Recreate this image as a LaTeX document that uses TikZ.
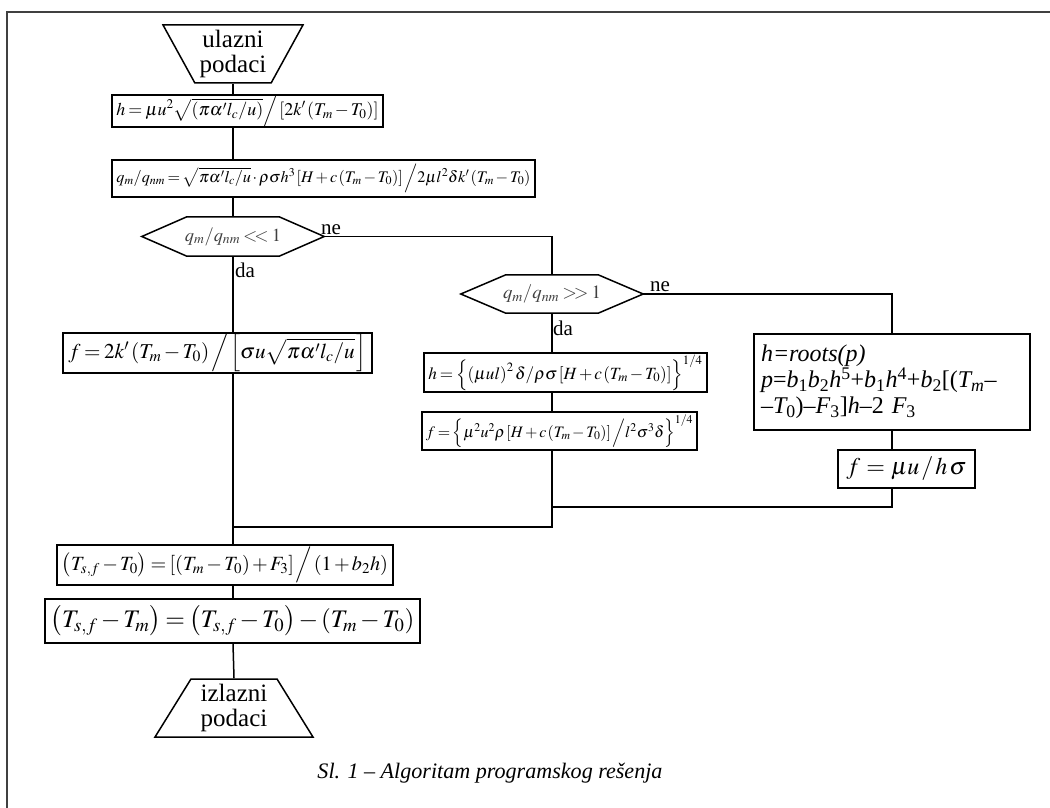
\documentclass[tikz,border=0pt]{standalone}
\usepackage{graphicx}
\usepackage{mathptmx}
\usepackage{fontspec}
\setmainfont{Liberation Serif}[ItalicFont={Liberation Serif Italic},BoldFont={Liberation Serif Bold}]
\usetikzlibrary{shapes.geometric,calc}
\newcommand{\fitw}[2]{\resizebox{#1pt}{!}{\thinmuskip=1.5mu\medmuskip=2mu\thickmuskip=3mu\nulldelimiterspace=0pt$#2$}}
\newcommand{\sbt}[1]{\textsubscript{\upshape #1}}
\newcommand{\spt}[1]{\textsuperscript{\upshape #1}}
\tikzset{
  box/.style={draw, line width=1.5pt, rectangle, inner sep=0pt, font=\fontsize{18}{20}\selectfont},
  hexn/.style={inner sep=0pt, font=\fontsize{18}{20}\selectfont, text=black!75},
  conn/.style={line width=1.5pt},
  lbl/.style={font=\fontsize{21}{22}\selectfont, inner sep=0pt},
  trap/.style={draw, line width=1.5pt, trapezium, trapezium stretches=true, inner sep=1pt, align=center, font=\fontsize{25}{25}\selectfont}
}
\begin{document}
\begin{tikzpicture}[x=1pt,y=-1pt]
\useasboundingbox (0,0) rectangle (1050,808);
\draw[line width=1.8pt, black!75] (7,808) -- (7,12) -- (1050,12);

% start / end
\node[trap, shape border rotate=180, minimum width=140pt, minimum height=58pt] (in) at (233,54) {ulazni\\podaci};
\node[trap, minimum width=158pt, minimum height=58pt] (out) at (234,708) {izlazni\\podaci};

% left column
\node[box, minimum width=271pt, minimum height=28pt] (b1) at (247.5,111)
  {\fitw{262}{h = \mu u^2\sqrt{\left(\pi\alpha' l_c/u\right)}\Big/\left[2k'\left(T_m - T_0\right)\right]}};
\node[box, minimum width=423pt, minimum height=37pt] (b2) at (323.5,178.5)
  {\fitw{414}{q_m/q_{nm} = \sqrt{\pi\alpha' l_c/u}\cdot\rho\sigma h^3\left[H + c\left(T_m - T_0\right)\right]\Big/ 2\mu l^2\delta k'\left(T_m - T_0\right)}};
\node[hexn, minimum width=182pt, minimum height=39pt] (d1) at (233,236.5)
  {\fitw{96}{q_m/q_{nm} <\!\!< 1}};
\draw[conn] (d1.west) -- ([xshift=45pt]d1.north west) -- ([xshift=-45pt]d1.north east) -- (d1.east)
  -- ([xshift=-45pt]d1.south east) -- ([xshift=45pt]d1.south west) -- cycle;
\node[box, minimum width=309pt, minimum height=40pt] (fL) at (217.5,353)
  {\fitw{298}{f = 2k'\left(T_m - T_0\right)\Big/\left[\sigma u\sqrt{\pi\alpha' l_c/u}\,\right]}};
\node[box, minimum width=336pt, minimum height=40pt] (ts1) at (225,565)
  {\fitw{326}{\left(T_{s,f}-T_0\right) = \left[\left(T_m-T_0\right)+F_3\right]\Big/\left(1+b_2h\right)}};
\node[box, minimum width=375pt, minimum height=44pt] (ts2) at (232.5,621)
  {\fitw{364}{\left(T_{s,f}-T_m\right) = \left(T_{s,f}-T_0\right) - \left(T_m-T_0\right)}};

% middle column
\node[hexn, minimum width=182pt, minimum height=38pt] (d2) at (552,294)
  {\fitw{98}{q_m/q_{nm} >\!\!> 1}};
\draw[conn] (d2.west) -- ([xshift=45pt]d2.north west) -- ([xshift=-45pt]d2.north east) -- (d2.east)
  -- ([xshift=-45pt]d2.south east) -- ([xshift=45pt]d2.south west) -- cycle;
\node[box, minimum width=283pt, minimum height=39pt] (bh) at (565.5,372.5)
  {\fitw{274}{h = \left\{\left(\mu u l\right)^2\delta/\rho\sigma\left[H + c\left(T_m-T_0\right)\right]\right\}^{1/4}}};
\node[box, minimum width=275pt, minimum height=38pt] (f2) at (559.5,431)
  {\fitw{267}{f = \left\{\mu^2u^2\rho\left[H+c\left(T_m-T_0\right)\right]\Big/ l^2\sigma^3\delta\right\}^{1/4}}};

% right column
\node[box, minimum width=276pt, minimum height=96pt, text width=262pt, align=left,
      font=\fontsize{24}{26}\selectfont\itshape] (roots) at (892,382)
  {h=roots(p)\\
   p{\upshape=}b\sbt{1}b\sbt{2}h\spt{5}{\upshape+}b\sbt{1}h\spt{4}{\upshape+}b\sbt{2}{\upshape[(}T\sbt{\itshape m}–\\
   –T\sbt{0}{\upshape)}–F\sbt{3}{\upshape]}h–{\upshape 2} F\sbt{3}};
\node[box, minimum width=137pt, minimum height=38pt] (fmu) at (906.5,469)
  {\fitw{120}{f \,=\, \mu u\,/\,h\,\sigma}};

% labels
\node[lbl, anchor=base west] (ne1) at (321,234) {ne};
\node[lbl, anchor=base west] (da1) at (235,277) {da};
\node[lbl, anchor=base west] (ne2) at (650,291) {ne};
\node[lbl, anchor=base west] (da2) at (553,335) {da};

% join points
\coordinate (j1) at (233,527);
\coordinate (j2) at (552,507);

% connectors
\draw[conn] (in.south) -- (in.south |- b1.north);
\draw[conn] (d1.north |- b1.south) -- (d1.north |- b2.north);
\draw[conn] (d1.north |- b2.south) -- (d1.north);
\draw[conn] (d1.south) -- (d1.south |- fL.north);
\draw[conn] (d1.south |- fL.south) -- (d1.south |- ts1.north);
\draw[conn] (d1.east) -| (d2.north);
\draw[conn] (d2.south) -- (d2.south |- bh.north);
\draw[conn] (d2.south |- bh.south) -- (d2.south |- f2.north);
\draw[conn] (d2.south |- f2.south) |- (j1);
\draw[conn] (d2.east) -| (roots.north);
\draw[conn] (roots.south) -- (roots.south |- fmu.north);
\draw[conn] (roots.south |- fmu.south) |- (j2);
\draw[conn] (d1.south |- ts1.south) -- (d1.south |- ts2.north);
\draw[conn] (d1.south |- ts2.south) -- (out.north);

% caption
\node[font=\itshape\fontsize{22}{24}\selectfont] (cap) at (490,773) {\resizebox{345pt}{!}{Sl. 1 – Algoritam programskog rešenja}};
\end{tikzpicture}
\end{document}
